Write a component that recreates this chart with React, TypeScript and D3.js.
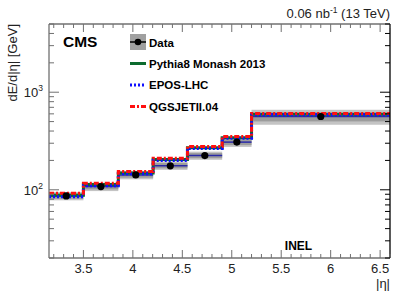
import * as d3 from "d3";

// bin edges in |eta|
const binEdges = [3.152, 3.5, 3.853, 4.205, 4.552, 4.903, 5.2, 6.6];

// measured dE/d|eta| [GeV]
const dataValues = [86.6, 108, 142, 176, 224, 308, 564];
const sysOuterLo = [78, 97, 128, 160, 203, 275, 464];
const sysOuterHi = [95, 118, 156, 195, 246, 340, 661];
const sysInnerLo = [81, 101, 133, 166, 211, 287, 502];
const sysInnerHi = [92, 114, 151, 188, 238, 328, 612];

// MC predictions
const pythiaValues = [88, 113, 149, 204, 270, 342, 595];
const eposValues = [85, 110, 146, 200, 265, 338, 590];
const qgsjetValues = [92, 117, 154, 211, 278, 351, 605];

const xTickValues = [3.5, 4, 4.5, 5, 5.5, 6, 6.5];

const W = 407;
const H = 294;
const frame = { left: 49, right: 390, top: 24, bottom: 258 };
const font = "'Liberation Sans', Arial, Helvetica, sans-serif";

const x = d3.scaleLinear().domain([3.152, 6.6]).range([frame.left, frame.right]);
const y = d3.scaleLog().domain([20, 5000]).range([frame.bottom, frame.top]);

const stepPath = (vals: number[]) => {
  const pts: [number, number][] = [];
  vals.forEach((v, i) => {
    pts.push([x(binEdges[i]), y(v)]);
    pts.push([x(binEdges[i + 1]), y(v)]);
  });
  return d3.line()(pts) ?? "";
};

const series = [
  { name: "Pythia8 Monash 2013", vals: pythiaValues, color: "#0c6b2e", dash: "" },
  { name: "EPOS-LHC", vals: eposValues, color: "#1010ff", dash: "2,2" },
  { name: "QGSJETII.04", vals: qgsjetValues, color: "#ff1010", dash: "5,2,2,2" },
];

export default function App() {
  const bins = dataValues.map((v, i) => ({
    x0: x(binEdges[i]),
    x1: x(binEdges[i + 1]),
    xc: x((binEdges[i] + binEdges[i + 1]) / 2),
    v,
    i,
  }));

  // x ticks: minor every 0.1
  const xMinor = d3.range(32, 67).map((d) => d / 10).filter((d) => d >= 3.152 && d <= 6.6);
  // y ticks
  const yMajor = [100, 1000];
  const yMinor: number[] = [];
  [10, 100, 1000].forEach((dec) => {
    for (let k = 2; k <= 9; k++) {
      const v = k * dec;
      if (v >= 20 && v <= 5000) yMinor.push(v);
    }
  });

  const axisColor = "#707070";

  return (
    <svg width={W} height={H} style={{ position: "absolute", left: 0, top: 0, background: "#fff" }}>
      {/* data systematic bands */}
      {bins.map((b) => (
        <g key={"band" + b.i}>
          <rect x={b.x0} width={b.x1 - b.x0} y={y(sysOuterHi[b.i])} height={y(sysOuterLo[b.i]) - y(sysOuterHi[b.i])} fill="#c4c4c4" />
          <rect x={b.x0} width={b.x1 - b.x0} y={y(sysInnerHi[b.i])} height={y(sysInnerLo[b.i]) - y(sysInnerHi[b.i])} fill="#9c9c9c" />
          <line x1={b.x0} x2={b.x1} y1={y(b.v)} y2={y(b.v)} stroke="#2a2aa8" strokeWidth={1.5} />
        </g>
      ))}

      {/* MC step lines */}
      {series.map((s) => (
        <path key={s.name} d={stepPath(s.vals)} fill="none" stroke={s.color} strokeWidth={3} strokeDasharray={s.dash || undefined} />
      ))}

      {/* data points */}
      {bins.map((b) => (
        <circle key={"pt" + b.i} cx={b.xc} cy={y(b.v)} r={3.6} fill="#000" />
      ))}

      {/* frame */}
      <line x1={frame.left} x2={frame.left} y1={frame.top} y2={frame.bottom} stroke={axisColor} strokeWidth={1.3} />
      <line x1={frame.left} x2={frame.right} y1={frame.bottom} y2={frame.bottom} stroke={axisColor} strokeWidth={1.3} />
      <line x1={frame.left} x2={frame.right} y1={frame.top} y2={frame.top} stroke={axisColor} strokeWidth={1.3} />
      <line x1={frame.right} x2={frame.right} y1={frame.top} y2={frame.bottom} stroke="#000" strokeWidth={1.3} />

      {/* x ticks */}
      {xMinor.map((t) => {
        const major = xTickValues.some((m) => Math.abs(m - t) < 1e-6);
        const len = major ? 8 : 4;
        return (
          <g key={"xt" + t} stroke={axisColor} strokeWidth={1}>
            <line x1={x(t)} x2={x(t)} y1={frame.bottom} y2={frame.bottom - len} />
            <line x1={x(t)} x2={x(t)} y1={frame.top} y2={frame.top + len} />
          </g>
        );
      })}
      {xTickValues.map((t) => (
        <text key={"xl" + t} x={x(t)} y={272.5} textAnchor="middle" fontFamily={font} fontSize={13} fill="#222">
          {t}
        </text>
      ))}

      {/* y ticks */}
      {yMajor.map((t) => (
        <g key={"yM" + t}>
          <line x1={frame.left} x2={frame.left + 10} y1={y(t)} y2={y(t)} stroke={axisColor} />
          <line x1={frame.right} x2={frame.right - 10} y1={y(t)} y2={y(t)} stroke="#000" />
        </g>
      ))}
      {yMinor.map((t) => (
        <g key={"ym" + t}>
          <line x1={frame.left} x2={frame.left + 5} y1={y(t)} y2={y(t)} stroke={axisColor} />
          <line x1={frame.right} x2={frame.right - 5} y1={y(t)} y2={y(t)} stroke="#000" />
        </g>
      ))}
      {yMajor.map((t) => (
        <text key={"yl" + t} x={43} y={y(t) + 5} textAnchor="end" fontFamily={font} fontSize={13} fill="#222">
          10
          <tspan dy={-6} fontSize={8.5}>
            {Math.round(Math.log10(t))}
          </tspan>
        </text>
      ))}

      {/* axis titles */}
      <text transform={`translate(17,${frame.top}) rotate(-90)`} textAnchor="end" fontFamily={font} fontSize={13} fill="#222">
        dE/d|η| [GeV]
      </text>
      <text x={frame.right} y={288} textAnchor="end" fontFamily={font} fontSize={13} fill="#222">
        |η|
      </text>
      <text x={frame.right} y={18} textAnchor="end" fontFamily={font} fontSize={13} fill="#222">
        0.06 nb
        <tspan dy={-5} fontSize={8.5}>-1</tspan>
        <tspan dy={5}> (13 TeV)</tspan>
      </text>

      {/* labels */}
      <text x={63} y={46.5} fontFamily={font} fontSize={15.5} fontWeight="bold" fill="#000">
        CMS
      </text>
      <text x={298.5} y={249.5} textAnchor="middle" fontFamily={font} fontSize={12} fontWeight="bold" fill="#000">
        INEL
      </text>

      {/* legend */}
      <g fontFamily={font} fontSize={11.5} fontWeight="bold" fill="#000">
        <rect x={130} y={34} width={16} height={16} fill="#a0a0a0" />
        <line x1={130} x2={146} y1={42} y2={42} stroke="#000" strokeWidth={1.5} />
        <circle cx={138} cy={42} r={3.3} fill="#000" />
        <text x={149} y={46.5}>Data</text>
        {series.map((s, i) => {
          const ly = 63.5 + i * 21.5;
          return (
            <g key={"lg" + s.name}>
              <line x1={130} x2={146} y1={ly} y2={ly} stroke={s.color} strokeWidth={3} strokeDasharray={s.dash || undefined} />
              <text x={149} y={ly + 4}>{s.name}</text>
            </g>
          );
        })}
      </g>
    </svg>
  );
}
